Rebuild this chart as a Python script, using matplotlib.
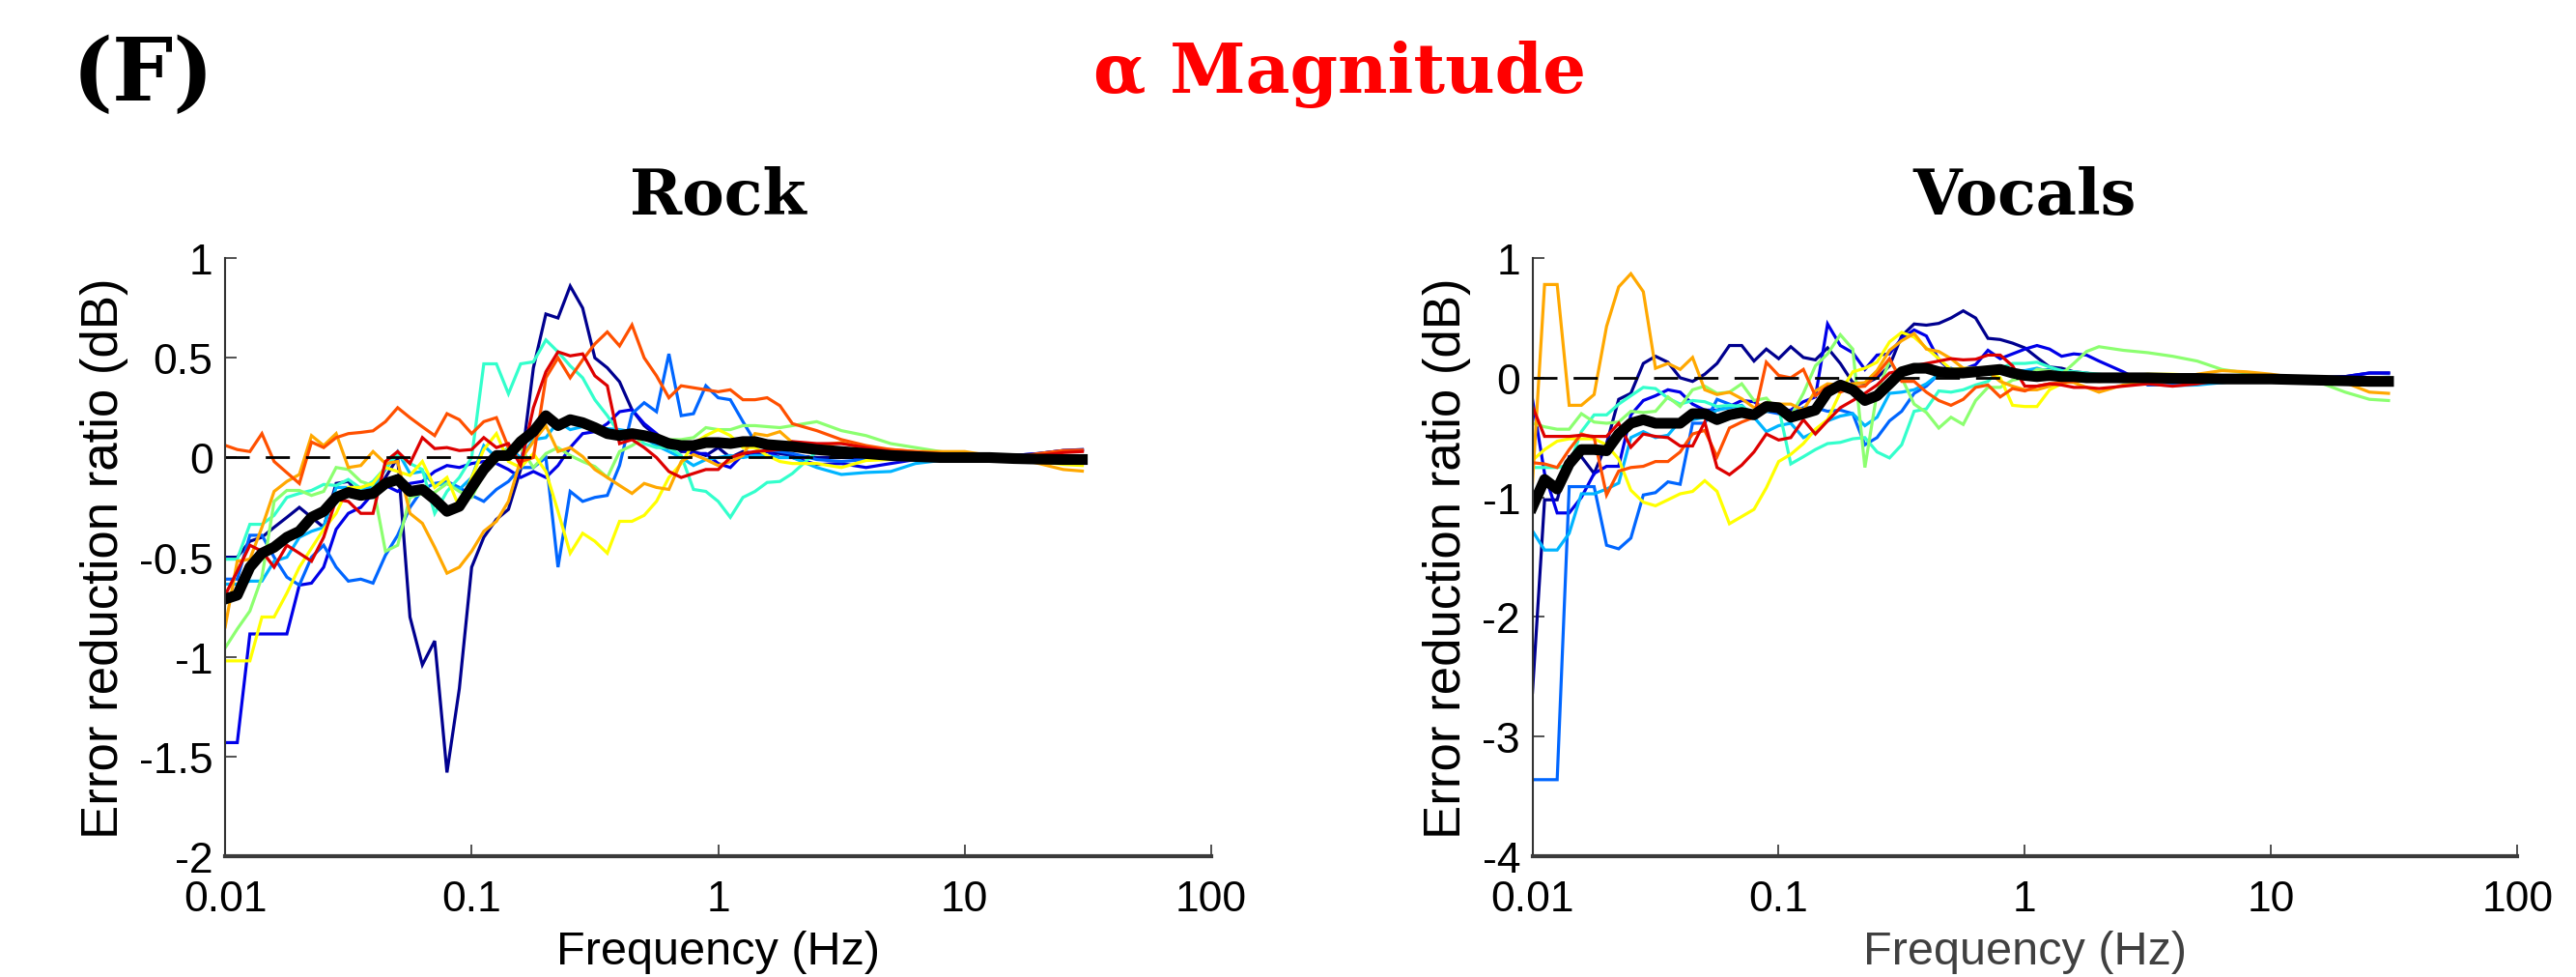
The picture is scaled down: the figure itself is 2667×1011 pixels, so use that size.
import matplotlib
matplotlib.use('Agg')
import matplotlib.pyplot as plt
from matplotlib.ticker import FixedLocator, FixedFormatter, NullLocator

plt.rcParams['font.family'] = ['Liberation Sans', 'DejaVu Sans']

# frequency bins (Hz)
freqs = [0.0100, 0.0112, 0.0126, 0.0141, 0.0158, 0.0178, 0.0200, 0.0224, 0.0251, 0.0282,
         0.0316, 0.0355, 0.0398, 0.0447, 0.0501, 0.0562, 0.0631, 0.0708, 0.0794, 0.0891,
         0.100, 0.112, 0.126, 0.141, 0.158, 0.178, 0.200, 0.224, 0.251, 0.282,
         0.316, 0.355, 0.398, 0.447, 0.501, 0.562, 0.631, 0.708, 0.794, 0.891,
         1.00, 1.12, 1.26, 1.41, 1.58, 1.78, 2.00,
         2.51, 3.16, 3.98, 5.01, 6.31, 7.94, 10.0, 12.6, 15.8, 20.0, 25.1, 30.0]

line_colors = ['#00008F', '#0000E8', '#0066FF', '#00B4FF', '#33FFCC',
               '#8CFF70', '#FFFF00', '#FFA800', '#FF5000', '#DD0000']

# ---- Rock: error reduction ratio (dB) per subject ----
rock_c0 = [-0.50, -0.50, -0.42, -0.40, -0.35, -0.30, -0.25, -0.30, -0.35, -0.13,
           -0.12, -0.20, -0.20, -0.10, 0.00, -0.80, -1.04, -0.92, -1.58, -1.16,
           -0.55, -0.40, -0.31, -0.26, -0.06, 0.45, 0.72, 0.70, 0.86, 0.75,
           0.50, 0.45, 0.38, 0.24, 0.16, 0.11, 0.08, 0.03, 0.03, 0.01,
           0.05, 0.00, 0.03, 0.02, 0.03, 0.02, 0.01,
           0.00, 0.00, 0.00, 0.00, 0.00, 0.00, 0.00, 0.00, 0.01, 0.02, 0.035, 0.04]
rock_c1 = [-1.43, -1.43, -0.885, -0.885, -0.885, -0.885, -0.64, -0.63, -0.55, -0.36,
           -0.28, -0.25, -0.18, -0.14, -0.17, -0.13, -0.12, -0.07, -0.04, -0.05,
           -0.03, -0.02, -0.03, -0.06, -0.10, -0.07, -0.10, -0.04, 0.05, 0.12,
           0.13, 0.17, 0.23, 0.24, 0.17, 0.12, 0.06, 0.04, 0.02, 0.02,
           -0.03, -0.05, 0.015, 0.025, 0.03, 0.00, 0.00,
           -0.035, -0.03, -0.05, -0.03, -0.01, -0.005, 0.00, 0.00, 0.01, 0.02, 0.035, 0.037]
rock_c2 = [-0.61, -0.61, -0.39, -0.39, -0.50, -0.60, -0.64, -0.50, -0.44, -0.55,
           -0.62, -0.61, -0.63, -0.49, -0.39, -0.25, -0.16, -0.13, -0.12, -0.15,
           -0.19, -0.22, -0.16, -0.12, -0.05, -0.05, 0.00, -0.55, -0.17, -0.22,
           -0.20, -0.19, -0.04, 0.22, 0.275, 0.23, 0.52, 0.21, 0.22, 0.36,
           0.30, 0.29, 0.18, 0.08, 0.04, 0.03, 0.02,
           -0.01, -0.02, -0.01, 0.00, 0.00, 0.00, 0.00, 0.00, 0.00, 0.00, 0.00, 0.005]
rock_c3 = [-0.635, -0.635, -0.62, -0.62, -0.52, -0.50, -0.40, -0.37, -0.35, -0.15,
           -0.15, -0.155, -0.15, -0.06, 0.03, -0.08, -0.07, -0.14, -0.13, -0.16,
           -0.10, 0.06, 0.00, 0.05, 0.00, 0.09, 0.10, 0.18, 0.14, 0.155,
           0.14, 0.145, 0.14, 0.13, 0.10, 0.06, 0.03, 0.00, -0.04, -0.01,
           0.00, 0.01, 0.00, 0.01, 0.01, 0.00, 0.00,
           -0.05, -0.085, -0.075, -0.07, -0.03, -0.015, -0.01, -0.005, -0.005, 0.00, 0.00, 0.00]
rock_c4 = [-0.51, -0.51, -0.335, -0.335, -0.29, -0.20, -0.18, -0.165, -0.135, -0.14,
           -0.11, -0.155, -0.12, -0.05, 0.013, -0.03, -0.06, -0.28, -0.17, -0.10,
           0.00, 0.47, 0.47, 0.32, 0.47, 0.48, 0.59, 0.53, 0.46, 0.40,
           0.29, 0.21, 0.12, 0.12, 0.07, 0.05, 0.05, 0.01, -0.16, -0.17,
           -0.22, -0.30, -0.20, -0.17, -0.125, -0.12, -0.08,
           0.03, 0.03, 0.02, 0.01, 0.00, 0.00, 0.00, 0.00, 0.00, 0.00, 0.00, -0.005]
rock_c5 = [-0.955, -0.86, -0.77, -0.60, -0.22, -0.165, -0.165, -0.19, -0.17, -0.05,
           -0.06, -0.12, -0.14, -0.47, -0.44, -0.20, -0.18, -0.175, -0.13, -0.17,
           -0.20, -0.08, -0.02, 0.05, 0.05, -0.05, 0.02, 0.05, 0.01, -0.02,
           -0.045, -0.10, 0.03, 0.06, 0.10, 0.105, 0.09, 0.09, 0.10, 0.15,
           0.14, 0.14, 0.16, 0.16, 0.155, 0.15, 0.16,
           0.18, 0.135, 0.11, 0.07, 0.05, 0.03, 0.015, 0.005, 0.00, 0.00, 0.00, 0.00]
rock_c6 = [-1.02, -1.02, -1.02, -0.80, -0.80, -0.68, -0.55, -0.455, -0.36, -0.28,
           -0.15, -0.15, -0.13, -0.05, -0.07, -0.09, -0.02, -0.15, -0.10, -0.25,
           -0.10, 0.04, 0.12, -0.02, -0.05, 0.02, -0.07, -0.27, -0.48, -0.38,
           -0.42, -0.48, -0.32, -0.32, -0.29, -0.22, -0.10, -0.03, 0.07, 0.11,
           0.14, 0.11, 0.05, 0.05, 0.01, -0.02, -0.03,
           -0.03, -0.05, -0.015, -0.01, -0.01, -0.01, -0.01, -0.01, -0.01, -0.02, -0.035, -0.04]
rock_c7 = [-0.85, -0.52, -0.51, -0.35, -0.17, -0.12, -0.085, 0.11, 0.06, 0.12,
           -0.05, -0.04, 0.03, -0.03, -0.02, -0.28, -0.33, -0.45, -0.58, -0.55,
           -0.47, -0.37, -0.32, -0.22, -0.01, 0.08, 0.16, 0.03, 0.05, 0.005,
           -0.06, -0.10, -0.14, -0.18, -0.13, -0.15, -0.16, -0.02, 0.015, -0.01,
           -0.04, -0.02, 0.01, 0.12, 0.11, 0.13, 0.075,
           0.06, 0.075, 0.045, 0.04, 0.03, 0.03, 0.03, 0.01, 0.00, -0.03, -0.06, -0.068]
rock_c8 = [0.061, 0.04, 0.03, 0.12, -0.02, -0.076, -0.13, 0.078, 0.05, 0.10,
           0.12, 0.126, 0.134, 0.18, 0.25, 0.20, 0.154, 0.11, 0.22, 0.19,
           0.12, 0.18, 0.20, 0.05, -0.02, 0.00, 0.40, 0.50, 0.40, 0.49,
           0.57, 0.63, 0.56, 0.665, 0.50, 0.41, 0.30, 0.36, 0.35, 0.34,
           0.33, 0.34, 0.29, 0.29, 0.30, 0.26, 0.17,
           0.135, 0.09, 0.06, 0.04, 0.03, 0.02, 0.01, 0.00, 0.00, 0.02, 0.035, 0.037]
rock_c9 = [-0.69, -0.57, -0.44, -0.47, -0.55, -0.44, -0.48, -0.52, -0.40, -0.21,
           -0.22, -0.28, -0.28, -0.02, 0.03, -0.03, 0.10, 0.045, 0.05, 0.035,
           0.04, 0.10, 0.05, 0.07, -0.04, 0.25, 0.43, 0.53, 0.51, 0.52,
           0.41, 0.36, 0.07, 0.09, 0.05, 0.00, -0.07, -0.10, -0.08, -0.06,
           -0.06, 0.00, 0.02, 0.03, 0.035, 0.04, 0.08,
           0.07, 0.07, 0.05, 0.03, 0.02, 0.01, 0.00, 0.00, 0.00, 0.01, 0.025, 0.03]
rock_mean = [-0.71, -0.69, -0.55, -0.48, -0.45, -0.40, -0.37, -0.30, -0.27, -0.20,
             -0.175, -0.19, -0.18, -0.13, -0.11, -0.17, -0.16, -0.21, -0.27, -0.245,
             -0.15, -0.06, 0.01, 0.01, 0.08, 0.13, 0.21, 0.16, 0.19, 0.175,
             0.15, 0.12, 0.11, 0.12, 0.11, 0.095, 0.07, 0.06, 0.06, 0.075,
             0.075, 0.07, 0.08, 0.08, 0.065, 0.06, 0.055,
             0.04, 0.03, 0.02, 0.01, 0.005, 0.00, 0.00, 0.00, -0.005, -0.008, -0.01, -0.01]

# ---- Vocals ----
voc_c0 = [-2.63, -1.02, -1.02, -0.66, -0.66, -0.80, -0.55, -0.18, -0.13, 0.12,
          0.18, 0.13, 0.00, -0.03, 0.03, 0.12, 0.27, 0.27, 0.14, 0.24,
          0.16, 0.26, 0.17, 0.15, 0.25, 0.12, -0.04, -0.05, 0.00, 0.10,
          0.35, 0.45, 0.44, 0.455, 0.50, 0.56, 0.50, 0.33, 0.32, 0.29,
          0.25, 0.17, 0.09, 0.08, 0.05, 0.04, 0.02,
          0.01, 0.00, 0.00, 0.00, 0.00, 0.00, 0.00, 0.00, 0.00, 0.01, 0.04, 0.04]
voc_c1 = [-0.18, -0.80, -1.13, -1.13, -1.00, -0.80, -0.74, -0.74, -0.31, -0.19,
          -0.15, -0.10, -0.12, -0.22, -0.27, -0.27, -0.24, -0.19, -0.20, -0.27,
          -0.28, -0.27, -0.20, -0.16, 0.45, 0.27, 0.21, 0.07, 0.19, 0.20,
          0.33, 0.40, 0.35, 0.15, 0.06, 0.07, 0.11, 0.23, 0.16, 0.20,
          0.24, 0.27, 0.24, 0.18, 0.20, 0.19, 0.14,
          0.05, -0.06, -0.06, -0.04, -0.02, -0.01, 0.00, 0.00, 0.00, 0.01, 0.04, 0.04]
voc_c2 = [-3.36, -3.36, -3.36, -0.91, -0.91, -0.91, -1.40, -1.43, -1.34, -0.98,
          -0.96, -0.87, -0.89, -0.38, -0.38, -0.18, -0.22, -0.27, -0.30, -0.28,
          -0.30, -0.30, -0.25, -0.25, -0.28, -0.27, -0.30, -0.56, -0.50, -0.36,
          -0.28, -0.13, -0.07, 0.03, 0.08, 0.04, 0.03, 0.03, 0.04, 0.02,
          0.05, 0.06, 0.07, 0.06, 0.02, 0.00, -0.02,
          -0.03, -0.03, -0.02, -0.01, 0.00, 0.00, 0.00, 0.00, 0.00, 0.00, 0.00, 0.005]
voc_c3 = [-1.28, -1.44, -1.44, -1.30, -0.97, -0.97, -0.93, -0.88, -0.50, -0.45,
          -0.50, -0.48, -0.36, -0.35, -0.33, -0.27, -0.25, -0.23, -0.33, -0.45,
          -0.40, -0.38, -0.50, -0.45, -0.36, -0.32, -0.30, -0.40, -0.33, -0.13,
          -0.12, -0.10, -0.05, 0.03, 0.05, 0.04, 0.05, 0.04, 0.06, 0.06,
          0.06, 0.08, 0.05, 0.04, 0.05, 0.03, 0.00,
          -0.03, -0.055, -0.065, -0.06, -0.04, -0.02, -0.01, 0.00, 0.00, 0.00, 0.00, 0.00]
voc_c4 = [-0.75, -0.75, -0.75, -0.73, -0.45, -0.31, -0.31, -0.22, -0.15, -0.08,
          -0.09, -0.17, -0.22, -0.19, -0.20, -0.24, -0.23, -0.24, -0.30, -0.28,
          -0.25, -0.72, -0.66, -0.60, -0.55, -0.54, -0.51, -0.50, -0.62, -0.67,
          -0.56, -0.28, -0.26, -0.11, -0.12, -0.10, -0.06, -0.03, 0.08, 0.12,
          0.12, 0.13, 0.09, 0.06, 0.05, 0.04, 0.03,
          0.01, 0.00, 0.00, 0.00, 0.00, 0.00, 0.00, 0.00, 0.00, 0.00, 0.00, 0.00]
voc_c5 = [-0.38, -0.41, -0.43, -0.43, -0.30, -0.37, -0.38, -0.37, -0.28, -0.29,
          -0.28, -0.16, -0.24, -0.10, -0.07, -0.13, -0.12, -0.05, -0.19, -0.17,
          -0.28, -0.32, -0.13, 0.10, 0.20, 0.36, 0.24, -0.75, -0.12, 0.14,
          0.00, -0.22, -0.29, -0.42, -0.33, -0.39, -0.19, -0.08, -0.08, -0.02,
          0.00, 0.07, 0.06, 0.03, 0.12, 0.22, 0.26,
          0.23, 0.21, 0.18, 0.14, 0.07, 0.04, 0.00, -0.02, -0.04, -0.12, -0.18, -0.19]
voc_c6 = [-0.69, -0.60, -0.53, -0.51, -0.51, -0.51, -0.56, -0.68, -0.94, -1.04,
          -1.07, -1.02, -0.97, -0.95, -0.86, -0.95, -1.22, -1.16, -1.10, -0.92,
          -0.70, -0.64, -0.55, -0.43, -0.35, -0.12, 0.05, 0.08, 0.13, 0.30,
          0.38, 0.34, 0.25, 0.16, 0.07, 0.08, 0.08, 0.05, 0.00, -0.23,
          -0.24, -0.24, -0.10, -0.05, -0.03, 0.00, -0.01,
          0.01, 0.03, 0.03, 0.02, 0.01, 0.00, 0.00, 0.00, 0.00, 0.00, 0.00, 0.00]
voc_c7 = [-0.88, 0.78, 0.78, -0.23, -0.23, -0.14, 0.43, 0.76, 0.87, 0.72,
          0.08, 0.12, 0.07, 0.17, -0.10, -0.14, -0.12, -0.175, -0.25, -0.21,
          -0.22, -0.22, -0.27, -0.11, -0.05, -0.06, -0.05, -0.04, 0.06, 0.23,
          0.31, 0.37, 0.24, 0.22, 0.16, 0.08, 0.065, 0.05, -0.03, -0.07,
          -0.10, -0.10, -0.07, -0.03, -0.04, -0.08, -0.12,
          -0.06, -0.04, -0.02, 0.03, 0.06, 0.05, 0.03, 0.00, -0.01, -0.04, -0.12, -0.13]
voc_c8 = [-0.71, -0.72, -0.75, -0.60, -0.47, -0.50, -0.98, -0.78, -0.75, -0.74,
          -0.70, -0.70, -0.62, -0.47, -0.44, -0.66, -0.42, -0.37, -0.33, 0.13,
          0.02, 0.00, 0.07, -0.15, -0.07, -0.12, -0.08, -0.07, 0.03, 0.16,
          -0.03, -0.03, -0.12, -0.19, -0.23, -0.18, -0.08, -0.06, -0.16, -0.09,
          -0.11, -0.07, -0.05, -0.04, -0.03, -0.02, -0.03,
          -0.02, -0.01, -0.02, -0.01, 0.00, 0.00, 0.00, 0.00, -0.01, -0.01, -0.02, -0.02]
voc_c9 = [-0.24, -0.49, -0.49, -0.49, -0.48, -0.49, -0.49, -0.38, -0.58, -0.47,
          -0.49, -0.50, -0.57, -0.57, -0.37, -0.75, -0.81, -0.73, -0.62, -0.47,
          -0.52, -0.50, -0.35, -0.47, -0.36, -0.25, -0.19, -0.13, -0.06, 0.04,
          0.06, 0.10, 0.12, 0.14, 0.16, 0.15, 0.155, 0.19, 0.19, 0.10,
          -0.07, -0.07, -0.05, -0.06, -0.08, -0.08, -0.09,
          -0.07, -0.05, -0.07, -0.05, -0.02, -0.01, 0.00, 0.00, 0.00, 0.00, 0.00, -0.01]
voc_mean = [-1.08, -0.85, -0.93, -0.72, -0.60, -0.60, -0.61, -0.47, -0.38, -0.35,
            -0.38, -0.38, -0.38, -0.30, -0.30, -0.35, -0.31, -0.29, -0.31, -0.24,
            -0.25, -0.33, -0.30, -0.27, -0.12, -0.06, -0.10, -0.19, -0.15, -0.05,
            0.05, 0.08, 0.08, 0.05, 0.04, 0.04, 0.05, 0.06, 0.07, 0.04,
            0.02, 0.01, 0.02, 0.01, 0.01, 0.00, 0.00,
            0.00, 0.00, -0.005, -0.005, -0.01, -0.01, -0.01, -0.015, -0.02, -0.025, -0.03, -0.03]

rock_lines = [rock_c0, rock_c1, rock_c2, rock_c3, rock_c4, rock_c5, rock_c6, rock_c7, rock_c8, rock_c9]
voc_lines = [voc_c0, voc_c1, voc_c2, voc_c3, voc_c4, voc_c5, voc_c6, voc_c7, voc_c8, voc_c9]

x_ticks = [0.01, 0.1, 1, 10, 100]
x_tick_labels = ['0.01', '0.1', '1', '10', '100']
rock_yticks = [-2, -1.5, -1, -0.5, 0, 0.5, 1]
rock_ylabels = ['-2', '-1.5', '-1', '-0.5', '0', '0.5', '1']
voc_yticks = [-4, -3, -2, -1, 0, 1]
voc_ylabels = ['-4', '-3', '-2', '-1', '0', '1']


def draw_panel(ax, lines, mean, yticks, ylabels, title, xlab_color):
    for vals, col in zip(lines, line_colors):
        ax.plot(freqs, vals, color=col, lw=2.3, solid_joinstyle='miter')
    ax.plot([freqs[0], freqs[-1]], [0, 0], color='black', lw=2, dashes=[9, 6])
    ax.plot(freqs, mean, color='black', lw=8)

    ax.set_xscale('log')
    ax.set_xlim(0.01, 100)
    ax.set_ylim(yticks[0], yticks[-1])
    ax.xaxis.set_major_locator(FixedLocator(x_ticks))
    ax.xaxis.set_major_formatter(FixedFormatter(x_tick_labels))
    ax.xaxis.set_minor_locator(NullLocator())
    ax.yaxis.set_major_locator(FixedLocator(yticks))
    ax.yaxis.set_major_formatter(FixedFormatter(ylabels))

    for side in ['top', 'right']:
        ax.spines[side].set_visible(False)
    ax.spines['left'].set_linewidth(1.5)
    ax.spines['left'].set_color('#333333')
    ax.spines['bottom'].set_linewidth(3)
    ax.spines['bottom'].set_color('#3a3a3a')
    ax.tick_params(direction='in', length=8.5, width=1.2, color='#333333',
                   labelsize=32)
    ax.tick_params(axis='x', pad=17)
    ax.tick_params(axis='y', pad=9)

    ax.set_xlabel('Frequency (Hz)', fontsize=35, labelpad=8, color=xlab_color)
    ax.set_ylabel('Error reduction ratio (dB)', fontsize=38, labelpad=8)
    ax.text(0.5, 1.104, title, transform=ax.transAxes, ha='center', va='center',
            fontsize=47, fontweight='bold', family='DejaVu Serif')


def main():
    fig = plt.figure(figsize=(26.67, 10.12), dpi=100)
    ax1 = fig.add_axes([0.0874, 0.1235, 0.3828, 0.6115])
    ax2 = fig.add_axes([0.5949, 0.1235, 0.3823, 0.6115])

    draw_panel(ax1, rock_lines, rock_mean, rock_yticks, rock_ylabels, 'Rock', 'black')
    draw_panel(ax2, voc_lines, voc_mean, voc_yticks, voc_ylabels, 'Vocals', '#404040')

    fig.text(0.0555, 0.921, '(F)', ha='center', va='center', fontsize=64,
             fontweight='bold', family='DejaVu Serif')
    fig.text(0.52, 0.924, 'α Magnitude', ha='center', va='center', fontsize=51,
             fontweight='bold', family='DejaVu Serif', color='#FF0000')

    fig.savefig('out.png', dpi=100)
    plt.close(fig)


if __name__ == '__main__':
    main()
